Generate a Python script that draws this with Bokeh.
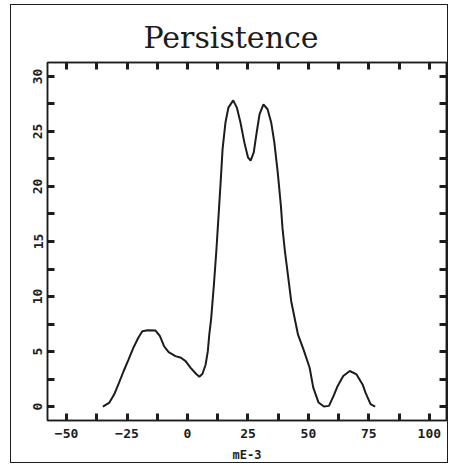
from bokeh.plotting import figure
from bokeh.models import FixedTicker, LinearAxis, Range1d
from bokeh.embed import file_html
from bokeh.resources import INLINE

# curve values (x in mE-3, y = persistence)
x_vals = [-35.0, -32.3, -30.3, -28.3, -26.4, -24.4, -22.4, -20.4, -18.7, -16.4,
          -13.2, -11.4, -9.7, -7.8, -5.0, -2.7, -0.8, 1.3, 3.5, 4.9,
          6.2, 7.5, 8.4, 9.0, 9.8, 10.9, 11.9, 12.5, 13.7, 14.5,
          15.7, 16.9, 18.9, 20.4, 21.9, 23.5, 25.0, 26.1, 27.4, 28.6,
          29.8, 31.4, 33.1, 34.6, 35.9, 37.3, 38.6, 39.3, 40.3, 42.9,
          45.7, 48.2, 50.5, 52.0, 54.2, 56.4, 58.5, 60.4, 62.1, 64.4,
          67.1, 69.9, 72.4, 73.6, 75.7, 77.6]
y_vals = [0.0, 0.36, 1.11, 2.17, 3.23, 4.27, 5.33, 6.23, 6.84, 6.93,
          6.90, 6.39, 5.48, 4.94, 4.58, 4.43, 4.13, 3.52, 2.98, 2.71,
          2.98, 3.82, 5.03, 6.53, 8.04, 11.05, 14.07, 16.17, 20.39, 23.40,
          25.82, 27.17, 27.83, 27.17, 25.82, 24.01, 22.65, 22.35, 23.10, 24.91,
          26.57, 27.47, 27.02, 25.82, 24.01, 21.30, 18.28, 16.17, 14.07, 9.55,
          6.53, 5.03, 3.52, 1.72, 0.36, 0.0, 0.06, 0.97, 1.87, 2.77,
          3.23, 2.92, 2.01, 1.27, 0.21, 0.0]

x_ticks = [-50, -25, 0, 25, 50, 75, 100]
x_minor = [-37.5, -12.5, 12.5, 37.5, 62.5, 87.5]
y_ticks = [0, 5, 10, 15, 20, 25, 30]
y_minor = [2.5, 7.5, 12.5, 17.5, 22.5, 27.5]

INK = "#1c1c1c"

p = figure(width=438, height=459,
           x_range=Range1d(-57.9, 107.1), y_range=Range1d(-1.27, 31.27),
           output_backend="svg", toolbar_location=None,
           min_border_left=36, min_border_right=3,
           min_border_top=57, min_border_bottom=38)

p.margin = (4, 0, 0, 10)
p.xgrid.visible = False
p.ygrid.visible = False
p.outline_line_color = INK
p.outline_line_width = 1.5
p.background_fill_color = "white"
p.border_fill_color = "white"
p.styles = {"border": "1.5px solid #1c1c1c"}

p.add_layout(LinearAxis(), "above")
p.add_layout(LinearAxis(), "right")


def style_axis(ax, ticks, minor, labels):
    ax.ticker = FixedTicker(ticks=ticks, minor_ticks=minor)
    ax.axis_line_color = INK
    ax.axis_line_width = 1.5
    ax.major_tick_in = 7
    ax.major_tick_out = 0
    ax.minor_tick_in = 7
    ax.minor_tick_out = 0
    ax.major_tick_line_width = 3
    ax.minor_tick_line_width = 3
    ax.major_tick_line_color = INK
    ax.minor_tick_line_color = INK
    if labels:
        ax.major_label_text_font = "DejaVu Sans Mono"
        ax.major_label_text_font_style = "bold"
        ax.major_label_text_font_size = "13px"
        ax.major_label_text_color = INK
    else:
        ax.major_label_text_font_size = "0px"
        ax.major_label_text_color = None
        ax.major_label_standoff = 0


for ax in p.below:
    style_axis(ax, x_ticks, x_minor, True)
    ax.major_label_standoff = 8
    ax.axis_label = "mE-3"
    ax.axis_label_text_font = "DejaVu Sans Mono"
    ax.axis_label_text_font_style = "bold"
    ax.axis_label_text_font_size = "12px"
    ax.axis_label_text_color = INK
    ax.axis_label_standoff = 7
for ax in p.above:
    style_axis(ax, x_ticks, x_minor, False)
for ax in p.left:
    style_axis(ax, y_ticks, y_minor, True)
    ax.major_label_orientation = "vertical"
    ax.major_label_standoff = 5
for ax in p.right:
    style_axis(ax, y_ticks, y_minor, False)

p.title.text = "Persistence"
p.title.align = "left"
p.title.offset = 96
p.title.text_font = "DejaVu Serif"
p.title.text_font_style = "normal"
p.title.text_font_size = "30px"
p.title.text_color = INK
p.title.standoff = 15

p.line(x_vals, y_vals, line_color=INK, line_width=2)

open("out.html", "w").write(file_html(p, INLINE))
